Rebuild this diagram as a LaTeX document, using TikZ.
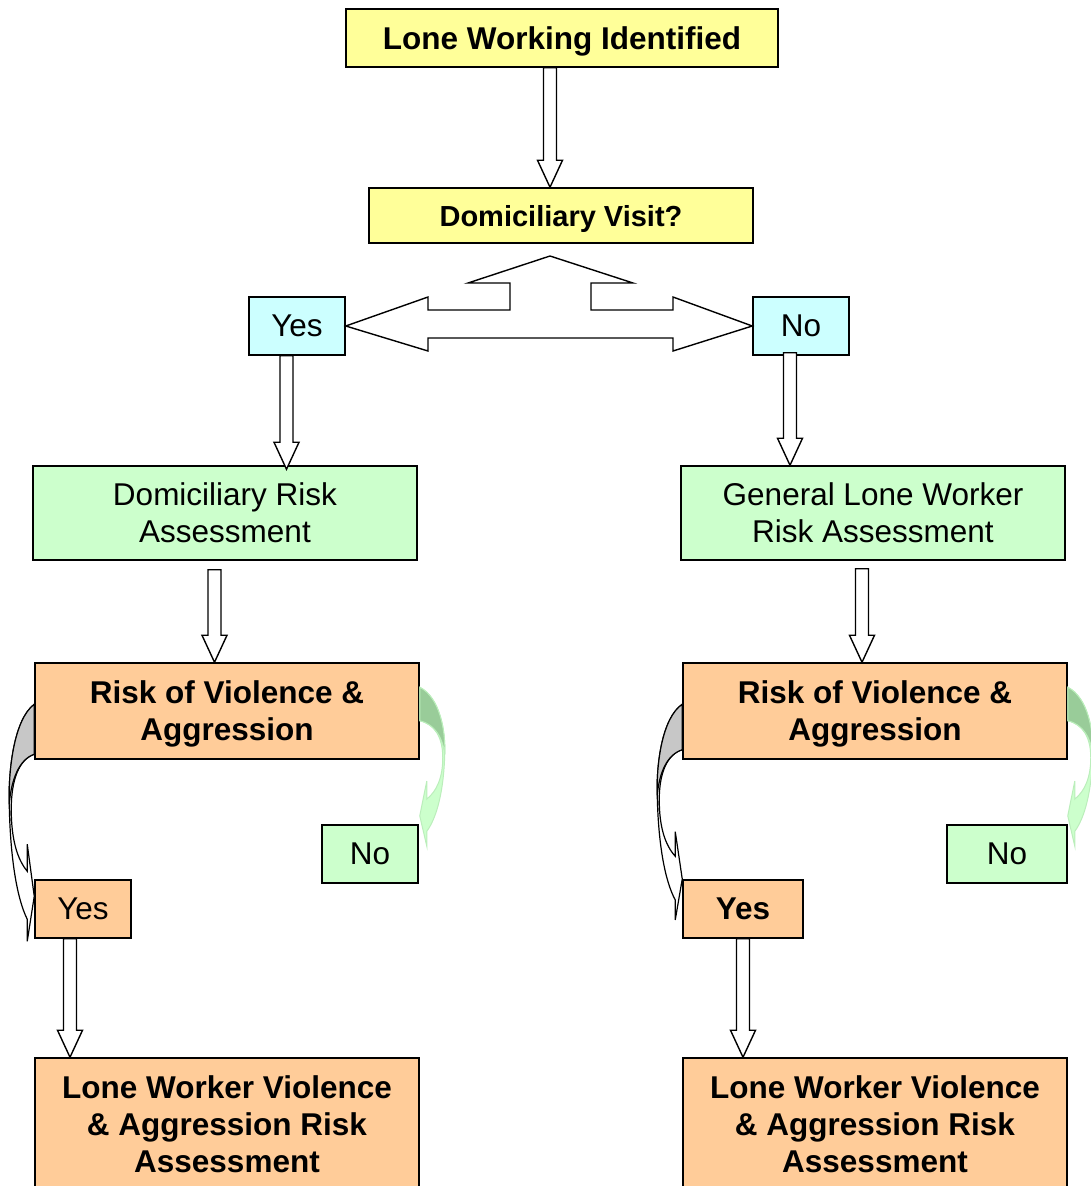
\documentclass[tikz,border=0pt]{standalone}
\usepackage{fontspec}
\setmainfont{Liberation Sans}
\usetikzlibrary{calc}

\definecolor{boxyellow}{HTML}{FFFF99}
\definecolor{boxcyan}{HTML}{CCFFFF}
\definecolor{boxgreen}{HTML}{CCFFCC}
\definecolor{boxorange}{HTML}{FFCC99}
\definecolor{bentgreen}{HTML}{99CC99}
\definecolor{bentline}{HTML}{BBEEBB}

\newcommand\bigtext{\fontsize{31.5}{37}\selectfont}

% hollow block arrow going straight down, x taken from the start point
\newcommand\blockarrow[2]{%
  \draw[blockarr] let \p1=(#1), \p2=(#2) in
    (\x1-6.5pt,\y1) -- (\x1-6.5pt,\y2+27pt) -- (\x1-12.5pt,\y2+27pt) -- (\x1,\y2)
    -- (\x1+12.5pt,\y2+27pt) -- (\x1+6.5pt,\y2+27pt) -- (\x1+6.5pt,\y1) -- cycle;}

\tikzset{
  box/.style={draw, line width=1.5pt, minimum height=58pt, inner sep=0pt,
    text depth=0pt, align=center, font=\bigtext},
  yellowbox/.style={box, fill=boxyellow, font=\bigtext\bfseries},
  cyanbox/.style={box, fill=boxcyan, minimum width=96pt},
  greenbox/.style={box, fill=boxgreen},
  orangebox/.style={box, fill=boxorange},
  blockarr/.style={draw, fill=white, line width=1.4pt, line join=miter},
  bentfront/.style={fill=white, draw=black, line width=1.2pt},
  bentback/.style={fill=black!22, draw=black, line width=1.2pt},
  pics/bentarrow/.style={code={
    \path[bentfront] (0,0) .. controls (-20,15) and (-26,65) .. (-25,100)
      .. controls (-24,155) and (-17,195) .. (-7,215) -- (-7,237) -- (0,192)
      -- (-7,140) -- (-7,167) .. controls (-17,155) and (-23,135) .. (-23,105)
      .. controls (-23,75) and (-15,55) .. (0,50) -- cycle;
    \path[bentback] (0,0) .. controls (-20,15) and (-26,65) .. (-25,100)
      .. controls (-23,75) and (-15,55) .. (0,50) -- cycle;
  }},
  greenbent/.style={xscale=-1, yscale=0.67,
    bentfront/.style={fill=boxgreen, draw=bentline, line width=1pt},
    bentback/.style={fill=bentgreen, draw=bentline, line width=1pt}}
}

\begin{document}
\begin{tikzpicture}[x=1pt, y=-1pt]
  \useasboundingbox (0,0) rectangle (1091,1186);
  \clip (0,0) rectangle (1091,1186);

  % top of the chart
  \node[yellowbox, minimum width=432pt] (topbox) at (562,38) {Lone Working Identified};
  \node[yellowbox, minimum width=384pt, minimum height=55pt,
        font=\fontsize{29}{34}\selectfont\bfseries] (visit) at (561,215.5) {Domiciliary Visit?};
  \node[cyanbox] (yesA) at (297,326) {Yes};
  \node[cyanbox] (noA) at (801,326) {No};

  % assessments
  \node[greenbox, minimum width=384pt, minimum height=94pt] (domrisk) at (225,513)
    {Domiciliary Risk\\Assessment};
  \node[greenbox, minimum width=384pt, minimum height=94pt] (genrisk) at (873,513)
    {General Lone Worker\\Risk Assessment};
  \node[orangebox, minimum width=384pt, minimum height=96pt, font=\bigtext\bfseries]
    (riskL) at (227,711) {Risk of Violence \&\\Aggression};
  \node[orangebox, minimum width=384pt, minimum height=96pt, font=\bigtext\bfseries]
    (riskR) at (875,711) {Risk of Violence \&\\Aggression};

  % answers
  \node[greenbox, minimum width=96pt] (noL) at (370,854) {No};
  \node[greenbox, minimum width=120pt] (noR) at (1007,854) {No};
  \node[orangebox, minimum width=96pt] (yesL) at (83,909) {Yes};
  \node[orangebox, minimum width=120pt, font=\bigtext\bfseries] (yesR) at (743,909) {Yes};

  \node[orangebox, minimum width=384pt, minimum height=132pt, font=\bigtext\bfseries]
    (lwL) at (227,1124) {Lone Worker Violence\\\& Aggression Risk\\Assessment};
  \node[orangebox, minimum width=384pt, minimum height=132pt, font=\bigtext\bfseries]
    (lwR) at (875,1124) {Lone Worker Violence\\\& Aggression Risk\\Assessment};

  % straight block arrows
  \blockarrow{[xshift=-12pt]topbox.south}{visit.north}
  \blockarrow{[xshift=-10.5pt]yesA.south}{[yshift=-4pt]domrisk.north}
  \blockarrow{[xshift=-11pt,yshift=3pt]noA.south}{domrisk.north}
  \blockarrow{[xshift=-10.5pt,yshift=-9pt]domrisk.south}{riskL.north}
  \blockarrow{[xshift=-11pt,yshift=-8pt]genrisk.south}{riskR.north}
  \blockarrow{[xshift=-13pt]yesL.south}{lwL.north}
  \blockarrow{yesR.south}{lwR.north}

  % three way arrow under the question
  \draw[blockarr] (yesA.east) -- (428,297) -- (428,310) -- (510,310) -- (510,283)
    -- (468,283) -- (550,256) -- (633,283) -- (591,283) -- (591,310) -- (673,310)
    -- (673,297) -- (noA.west) -- (673,351) -- (673,338) -- (428,338) -- (428,351) -- cycle;

  % bent arrows beside the risk boxes
  \pic at ([yshift=-42pt]riskL.north west) {bentarrow};
  \pic[yscale=0.91] at ([yshift=-42pt]riskR.north west) {bentarrow};
  \pic[greenbent] at ([yshift=-25pt]riskL.north east) {bentarrow};
  \pic[greenbent] at ([yshift=-25pt]riskR.north east) {bentarrow};
\end{tikzpicture}
\end{document}
